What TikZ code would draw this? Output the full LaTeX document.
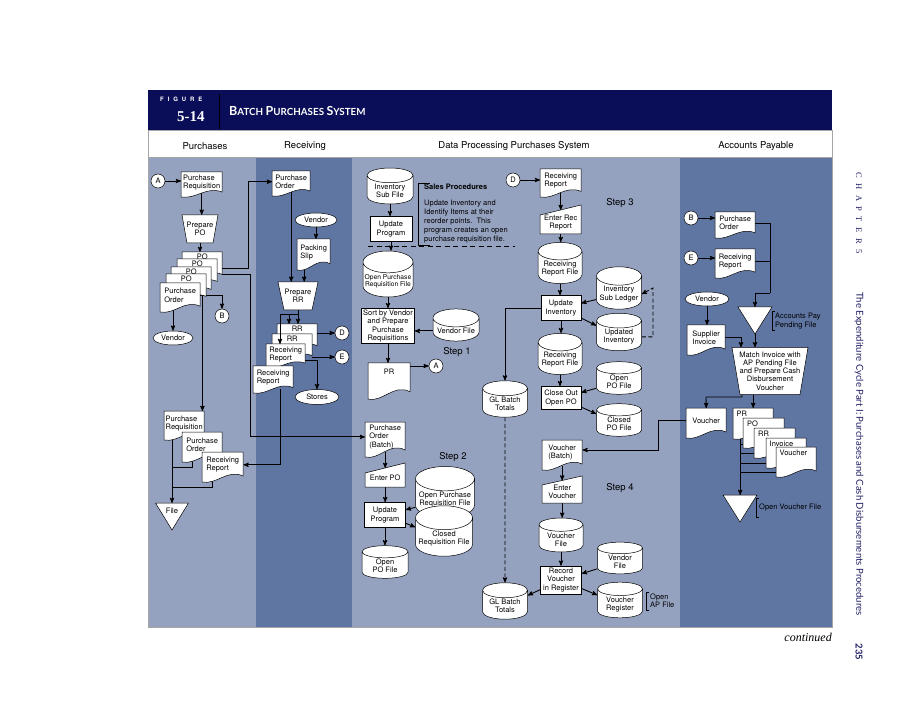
\documentclass[tikz,border=0pt]{standalone}
\usepackage{fontspec}
\setmainfont{TeX Gyre Heros}
\newfontfamily\bookserif{Liberation Serif}
\newfontfamily\booksans{Lato}
\newfontfamily\chapserif[LetterSpace=65]{Liberation Serif}
\newfontfamily\figfont[LetterSpace=65]{TeX Gyre Heros}
\usepackage{tikz}
\usetikzlibrary{arrows}
\usetikzlibrary{shapes.geometric}
\pgfdeclarelayer{lanes}
\pgfdeclarelayer{wires}
\pgfsetlayers{lanes,wires,main}
\definecolor{banner}{RGB}{10,14,88}
\definecolor{lanelight}{RGB}{149,162,191}
\definecolor{lanedark}{RGB}{95,117,162}
\definecolor{sidetext}{RGB}{30,30,100}
\newcommand{\dftext}{\fontsize{7.5}{8.2}\selectfont}
\newcommand{\steptext}{\fontsize{9.5}{10}\selectfont}
\newcommand{\headtext}{\fontsize{9.5}{10}\selectfont}
\newcommand{\fsc}[2]{{\fontsize{12.5}{13}\selectfont#1}{\fontsize{9.8}{11}\selectfont#2}}
\tikzstyle{shapeline}=[draw=black, fill=white, line width=0.5pt]
\tikzstyle{wire}=[draw, line width=0.9pt]
\tikzstyle{flow}=[wire, ->, >=stealth']
\tikzstyle{dashflow}=[flow, dash pattern=on 4pt off 2.5pt]
\tikzstyle{bracket}=[draw, line width=0.45pt]
\tikzstyle{boxtext}=[font=\dftext, align=center, inner sep=1pt]
\tikzstyle{connector}=[circle, shapeline, boxtext, minimum size=14pt, inner sep=0pt]
\tikzstyle{terminal}=[ellipse, shapeline, boxtext, inner sep=0pt, minimum width=42pt, minimum height=14pt]
\tikzstyle{process}=[rectangle, shapeline, boxtext]
\tikzstyle{disk}=[cylinder, shape border rotate=90, aspect=0.45, anchor=shape center, shapeline, boxtext]
\tikzstyle{doctext}=[boxtext, anchor=north west, align=left]
\tikzstyle{sheettext}=[doctext, text height=6.5pt, text depth=15pt]
\tikzstyle{sheetleft}=[sheettext, text width=33pt]
\tikzstyle{note}=[font=\dftext, align=left, anchor=west, inner sep=0pt]
% document: [text style]{name}{x}{y}{width}{height}{text}
\newcommand{\dfdoc}[7][doctext]{%
  \begin{scope}[shift={(#3,#4)}]
    \path[shapeline] (0,0) -- (#5,0) -- (#5,#6*0.8) .. controls (#5*0.62,#6*0.56) and (#5*0.36,#6*1.1) .. (0,#6) -- cycle;
    \node[#1, minimum width=#5, minimum height=#6*0.84] (#2) at (0,0) {#7};
  \end{scope}}
% manual input: {name}{x}{y}{width}{height}{slant}{text}
\newcommand{\dfinput}[7]{%
  \begin{scope}[shift={(#2,#3)}]
    \path[shapeline] (0,#6) -- (#4,0) -- (#4,#5) -- (0,#5) -- cycle;
    \node[boxtext, anchor=north west, minimum width=#4, minimum height=#5-#6/2] (#1) at (0,#6/2) {#7};
  \end{scope}}
% manual operation: {name}{cx}{cy}{top width}{bottom width}{height}{text}
\newcommand{\dfmanual}[7]{%
  \path[shapeline] (#2-#4/2,#3-#6/2) -- (#2+#4/2,#3-#6/2) -- (#2+#5/2,#3+#6/2) -- (#2-#5/2,#3+#6/2) -- cycle;
  \node[boxtext, minimum width=#5, minimum height=#6] (#1) at (#2,#3) {#7};}
% offline file: {name}{cx}{top}{width}{height}{text}
\newcommand{\dffile}[6]{%
  \path[shapeline] (#2-#4/2,#3) -- (#2+#4/2,#3) -- (#2,#3+#5) -- cycle;
  \node[boxtext, anchor=north, minimum width=#4, minimum height=#5*0.6] (#1) at (#2,#3) {#6};}

\begin{document}
\begin{tikzpicture}[x=1pt, y=-1pt]
\useasboundingbox (0,0) rectangle (900,719);

\begin{pgfonlayer}{lanes}
\fill[banner] (148,90) rectangle (832,130);
\fill[white] (148,130) rectangle (832,157);
\fill[lanelight] (148,157) rectangle (256,627);
\fill[lanedark] (256,157) rectangle (352,627);
\fill[lanelight] (352,157) rectangle (680,627);
\fill[lanedark] (680,157) rectangle (832,627);
\draw[gray!70, line width=0.6pt] (148,130) rectangle (832,627);
\draw[gray!70, line width=0.8pt] (148,157) -- (832,157);
\end{pgfonlayer}

% banner and lane titles
\node[anchor=west, inner sep=0pt, text=white, font=\figfont\bfseries\fontsize{6}{7}\selectfont] (figword) at (160,99) {FIGURE};
\node[anchor=west, inner sep=0pt, text=white, font=\bookserif\bfseries\fontsize{15}{16}\selectfont] (fignum) at (177,117) {5-14};
\draw[black, line width=1pt] (219,94) -- (219,129);
\node[anchor=west, inner sep=0pt, text=white, font=\booksans\bfseries] (figtitle) at (229,111) {\fsc{B}{ATCH} \fsc{P}{URCHASES} \fsc{S}{YSTEM}};
\node[font=\headtext] (hpur) at (205,146) {Purchases};
\node[font=\headtext] (hrec) at (305,146) {Receiving};
\node[font=\headtext] (hdp) at (514,146) {Data Processing Purchases System};
\node[font=\headtext] (hap) at (756,146) {Accounts Payable};

% Purchases
\node[connector] (pa) at (158,181) {A};
\dfdoc{prq}{181}{172}{41}{25}{Purchase\\Requisition}
\dfmanual{ppo}{200}{229}{36}{26}{28}{Prepare\\PO}
\dfdoc[sheettext]{po1}{182}{252}{40}{28}{PO}
\dfdoc[sheettext]{po2}{177}{259}{40}{28}{PO}
\dfdoc[sheettext]{po3}{171}{267}{40}{28}{PO}
\dfdoc[sheettext]{po4}{166}{274}{40}{28}{PO}
\dfdoc{pord}{160}{283}{40}{29}{Purchase\\Order}
\node[terminal, minimum width=40] (pvend) at (173,338) {Vendor};
\node[connector] (pb) at (222,316) {B};
\dfdoc{prq2}{164}{411}{40}{29}{Purchase\\Requisition}
\dfdoc{pord2}{182}{432}{40}{30}{Purchase\\Order}
\dfdoc{prr2}{202}{452}{41}{30}{Receiving\\Report}
\dffile{pfile}{172}{503}{33}{27}{File}

% Receiving
\dfdoc{rpo}{272}{171}{38}{25}{Purchase\\Order}
\node[terminal] (rvend) at (316,220) {Vendor};
\dfdoc{pslip}{297}{239}{33}{31}{Packing\\Slip}
\dfmanual{prr}{298}{296}{40}{28}{28}{Prepare\\RR}
\dfdoc[sheettext]{rr1}{277}{324}{40}{27}{RR}
\dfdoc[sheettext]{rr2}{272}{334}{40}{27}{RR}
\dfdoc{rrep1}{266}{344}{39}{24}{Receiving\\Report}
\dfdoc{rrep2}{253}{366}{40}{27}{Receiving\\Report}
\node[connector] (rd) at (342,333) {D};
\node[connector] (re) at (342,357) {E};
\node[terminal, minimum width=44, minimum height=15] (rstore) at (317,397) {Stores};

% Data processing, step 1
\node[disk, minimum width=46, minimum height=31] (invsub) at (390,186) {Inventory\\Sub File};
\node[process, minimum width=42, minimum height=25] (upd1) at (391,229) {Update\\Program};
\node[note, font=\dftext\bfseries] (salesproc) at (424,187) {Sales Procedures};
\node[note, anchor=north west, font=\fontsize{7.5}{9}\selectfont] (salesnote) at (424,200) {Update Inventory and\\Identify Items at their\\reorder points.\ \ This\\program creates an open\\purchase requisition file.};
\draw[bracket] (430,183) -- (418,183) -- (418,245) -- (430,245);
\draw[line width=1pt, dash pattern=on 5pt off 3.5pt] (368,247) -- (515,247);
\node[disk, minimum width=50, minimum height=32, font=\fontsize{6.7}{7.6}\selectfont] (oprf) at (388,274) {Open Purchase\\Requisition File};
\node[process, minimum width=53, minimum height=35] (sortreq) at (388,326) {Sort by Vendor\\and Prepare\\Purchase\\Requisitions};
\node[disk, minimum width=46, minimum height=31] (vfile) at (456,325) {Vendor File};
\node[font=\steptext] (step1) at (457,352) {Step 1};
\dfdoc[sheettext]{pr}{368}{363}{42}{36}{PR}
\node[connector] (dpa) at (436,366) {A};

% step 2
\dfdoc{pob}{365}{422}{40}{35}{Purchase\\Order\\(Batch)}
\node[font=\steptext] (step2) at (453,457) {Step 2};
\dfinput{epo}{365}{463}{40}{24}{10}{Enter PO}
\node[process, minimum width=41, minimum height=25] (upd2) at (385,515) {Update\\Program};
\node[disk, minimum width=59, minimum height=35] (oprf2) at (445,492) {Open Purchase\\Requisition File};
\node[disk, minimum width=57, minimum height=30] (cref) at (444,531) {Closed\\Requisition File};
\node[disk, minimum width=46, minimum height=30] (opof) at (385,562) {Open\\PO File};
\node[disk, minimum width=45, minimum height=31] (glb1) at (505,399) {GL Batch\\Totals};
\node[disk, minimum width=45, minimum height=28] (glb2) at (505,601) {GL Batch\\Totals};

% step 3
\node[connector] (dpd) at (513,180) {D};
\dfdoc{rrd}{540}{169}{41}{28}{Receiving\\Report}
\node[font=\steptext] (step3) at (620,203) {Step 3};
\dfinput{erec}{540}{205}{41}{29}{10}{Enter Rec\\Report}
\node[disk, minimum width=44, minimum height=30] (rrf1) at (560,263) {Receiving\\Report File};
\node[process, minimum width=40, minimum height=25] (updinv) at (561,308) {Update\\Inventory};
\node[disk, minimum width=45, minimum height=31] (isl) at (619,288) {Inventory\\Sub Ledger};
\node[disk, minimum width=45, minimum height=30] (uinv) at (619,332) {Updated\\Inventory};
\node[disk, minimum width=44, minimum height=28] (rrf2) at (560,354) {Receiving\\Report File};
\node[process, minimum width=40, minimum height=23] (closeout) at (561,398) {Close Out\\Open PO};
\node[disk, minimum width=45, minimum height=30] (opof2) at (619,378) {Open\\PO File};
\node[disk, minimum width=45, minimum height=30] (cpof) at (619,420) {Closed\\PO File};

% step 4
\dfdoc{vbatch}{542}{440}{40}{30}{Voucher\\(Batch)}
\node[font=\steptext] (step4) at (620,488) {Step 4};
\dfinput{evouch}{542}{476}{40}{27}{9}{Enter\\Voucher}
\node[disk, minimum width=44, minimum height=30] (vfile2) at (561,535) {Voucher\\File};
\node[process, minimum width=41, minimum height=28] (recv) at (561,580) {Record\\Voucher\\in Register};
\node[disk, minimum width=45, minimum height=30] (vendf) at (620,558) {Vendor\\File};
\node[disk, minimum width=45, minimum height=30] (vreg) at (620,600) {Voucher\\Register};
\draw[bracket] (649,592) -- (646,592) -- (646,610) -- (649,610);
\node[note, font=\fontsize{7.5}{7.5}\selectfont] (openap) at (650,601) {Open\\AP File};

% Accounts payable
\node[connector] (apb) at (691,218) {B};
\dfdoc{appo}{715}{212}{40}{26}{Purchase\\Order}
\node[connector] (ape) at (691,258) {E};
\dfdoc{aprr}{715}{249}{40}{29}{Receiving\\Report}
\dffile{apfile}{755}{307}{34}{27}{}
\draw[bracket] (775,311) -- (772,311) -- (772,330) -- (775,330);
\node[note] (apfilelabel) at (775,321) {Accounts Pay\\Pending File};
\node[terminal, minimum width=44] (avend) at (707,299) {Vendor};
\dfdoc{sinv}{687}{325}{38}{30}{Supplier\\Invoice}
\dfmanual{match}{770}{371}{76}{60}{47}{Match Invoice with\\AP Pending File\\and Prepare Cash\\Disbursement\\Voucher}
\dfdoc{apvouch}{686}{408}{40}{30}{Voucher}
\dfdoc[sheetleft]{apr}{733}{408}{40}{31}{PR}
\dfdoc[sheetleft]{appo2}{743}{418}{41}{30}{PO}
\dfdoc[sheetleft]{aprr3}{754}{428}{41}{30}{RR}
\dfdoc[sheetleft]{ainv}{766}{438}{40}{30}{Invoice}
\dfdoc[sheetleft]{avou}{776}{447}{40}{30}{Voucher}
\dffile{avfile}{740}{495}{34}{27}{}
\draw[bracket] (759,498) -- (756,498) -- (756,517) -- (759,517);
\node[note] (avfilelabel) at (759,508) {Open Voucher File};

% page margin
\node[rotate=-90, anchor=west, inner sep=0pt, text=sidetext, font=\chapserif\fontsize{8.5}{9}\selectfont] (chaplabel) at (859,172) {CHAPTER\hspace{5pt}5};
\node[rotate=-90, anchor=west, inner sep=0pt, text=sidetext, font=\booksans\fontsize{9.6}{10}\selectfont] (chaptitle) at (859,292) {The Expenditure Cycle Part I: Purchases and Cash Disbursements Procedures};
\node[rotate=-90, inner sep=0pt, text=sidetext, font=\booksans\bfseries\fontsize{9.5}{10}\selectfont] (pagenum) at (859,652) {235};
\node[anchor=east, inner sep=0pt, font=\bookserif\itshape\fontsize{12}{13}\selectfont] (contd) at (832,637) {continued};

\begin{pgfonlayer}{wires}
% purchases
\draw[flow] (pa) -- (pa -| prq.west);
\draw[flow] (prq.south) -- (prq.south |- ppo.north);
\draw[flow] (ppo.south) -- (ppo.south |- po1.north);
\draw[flow] (pvend |- pord.south) -- (pvend.north);
\draw[flow] (pord.east) -| (pb.north);
\coordinate (pdrop) at ([xshift=2pt]pord.east);
\draw[flow] (pdrop) -- (pdrop |- prq2.north);
\coordinate (pup) at (248,268);
\draw[flow] (po1.east |- pup) -- (pup) |- (rpo.west);
\coordinate (pdown) at (250,274);
\draw[flow] (po1.east |- pdown) -- (pdown) |- (pob.west);
\draw[flow] (pfile.north |- prq2.south) -- (pfile.north);
\coordinate (pf1) at (172,467);
\coordinate (pf2) at (172,487);
\draw[wire] ([xshift=-10pt]pord2.south) |- (pf1);
\draw[wire] ([xshift=-10pt]prr2.south) |- (pf2);
% receiving
\draw[flow] (rpo.south) -- (rpo.south |- prr.north);
\draw[flow] (rvend.south) -- (rvend.south |- pslip.north);
\coordinate (pslipout) at ([xshift=-9.5pt]pslip.south);
\draw[flow] (pslipout) -- (pslipout |- prr.north);
\coordinate (rsplit) at ([yshift=-4pt]prr.south);
\draw[flow] (prr.south) -- (prr.south |- rr1.north);
\draw[flow] (rsplit) -| ([xshift=12pt]rr1.north west);
\draw[flow] (rr1.east |- rd) -- (rd);
\draw[flow] (rr2.east |- re) -- (re);
\coordinate (rstoreout) at ([yshift=-6pt]rrep1.east);
\draw[flow] (rstoreout) -| (rstore.north);
\coordinate (rrepout) at ([xshift=7pt]rrep2.south);
\draw[flow] (rrepout) |- (prr2.east);
% step 1
\draw[flow] (invsub.south) -- (invsub.south |- upd1.north);
\draw[flow] (upd1.south) -- (upd1.south |- oprf.north);
\draw[flow] (oprf.south) -- (oprf.south |- sortreq.north);
\draw[flow] (vfile.west) -- (vfile.west -| sortreq.east);
\draw[flow] (sortreq.south) -- (sortreq.south |- pr.north);
\draw[flow] (pr.east |- dpa) -- (dpa);
% step 2
\draw[flow] (pob.south) -- (pob.south |- epo.north);
\draw[flow] (epo.south) -- (epo.south |- upd2.north);
\draw[flow] (oprf2) -- (upd2);
\draw[flow] (upd2) -- (cref);
\draw[flow] (upd2.south) -- (upd2.south |- opof.north);
\draw[dashflow] (glb1.south) -- (glb2.north);
% step 3
\draw[flow] (dpd) -- (dpd -| rrd.west);
\draw[flow] (rrd.south) -- (rrd.south |- erec.north);
\draw[flow] (erec.south) -- (erec.south |- rrf1.north);
\draw[flow] (rrf1.south) -- (rrf1.south |- updinv.north);
\draw[flow] (isl) -- (updinv);
\draw[flow] (updinv) -- (uinv);
\coordinate (jdash) at (653,288);
\draw[dashflow] (uinv.east) -| (jdash) -- (isl.east);
\draw[flow] (updinv.south) -- (updinv.south |- rrf2.north);
\draw[flow] (rrf2.south) -- (rrf2.south |- closeout.north);
\draw[flow] (opof2) -- (closeout);
\draw[flow] (closeout) -- (cpof);
\draw[flow] (updinv.west) -| (glb1.north);
% step 4
\coordinate (jv) at (658,450);
\draw[flow] (apvouch.west) -| (jv) -- (jv -| vbatch.east);
\draw[flow] (vbatch.south) -- (vbatch.south |- evouch.north);
\draw[flow] (evouch.south) -- (evouch.south |- vfile2.north);
\draw[flow] (vfile2.south) -- (vfile2.south |- recv.north);
\draw[flow] (vendf) -- (recv);
\draw[flow] (recv) -- (vreg);
\draw[flow] (recv) -- (glb2);
% accounts payable
\draw[flow] (apb) -- (apb -| appo.west);
\draw[flow] (ape) -- (ape -| aprr.west);
\coordinate (japn) at (770,293);
\draw[wire] (appo.east) -| (japn);
\draw[wire] (aprr.east) -- (aprr.east -| japn);
\draw[flow] (japn) -| (apfile.north);
\draw[flow] (avend.south) -- (avend.south |- sinv.north);
\draw[flow] (sinv.east) -| ([xshift=-29pt]match.north);
\draw[flow] (apfile.south) -- (apfile.south |- match.north);
\coordinate (jm) at (706,397);
\draw[flow] ([xshift=-28pt]match.south) |- (jm) -- (apvouch.north);
\draw[flow] (match.south -| apr.north) -- (apr.north);
\coordinate (jvs) at ([xshift=-13pt]apr.south);
\draw[flow] (jvs) -- (jvs |- avfile.north);
\foreach \doc/\yy in {appo2/444, aprr3/453, ainv/463, avou/472}
  \draw[wire] (jvs |- 0,\yy) -- (\doc.west |- 0,\yy);
\end{pgfonlayer}
% this one crosses the RR copies
\draw[flow] (rsplit) -| ([xshift=14pt]rrep1.north west);
\end{tikzpicture}
\end{document}
